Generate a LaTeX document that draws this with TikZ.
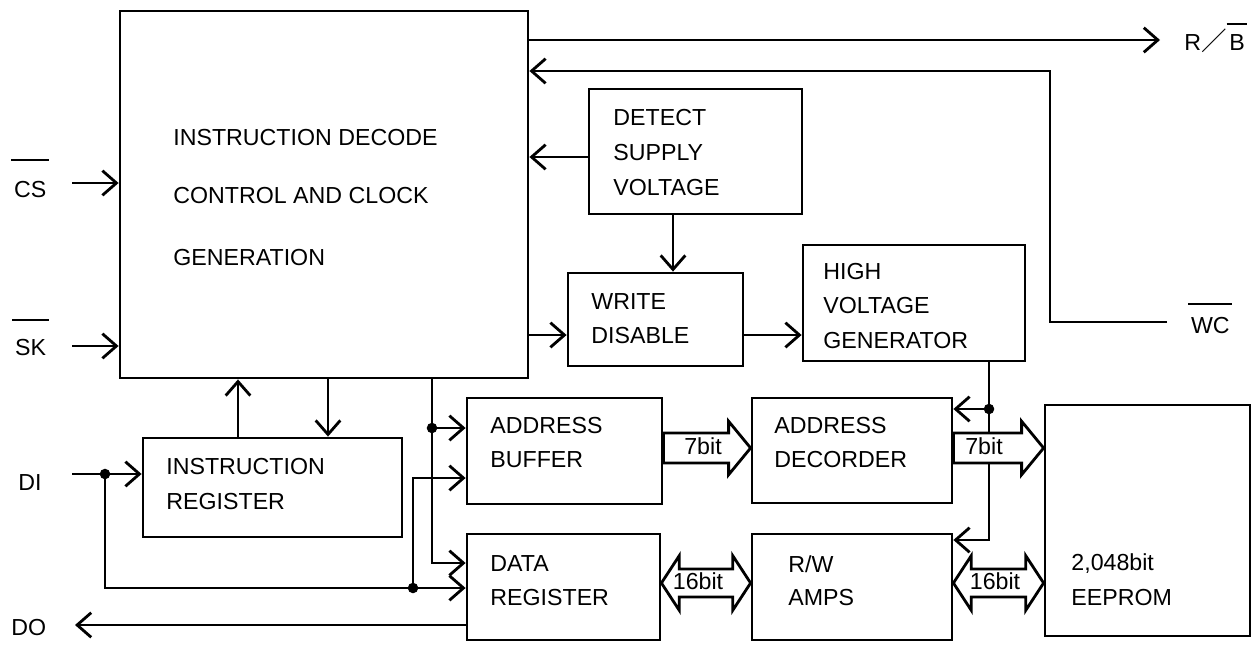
\documentclass[tikz,border=0pt]{standalone}
\usepackage{fontspec}
\setmainfont{Liberation Sans}
\newfontfamily\cjkfont{Noto Sans CJK JP}[Scale=1.1]
\usetikzlibrary{arrows.meta,fit,calc}
\newcommand\ovl[2]{\vbox{\hrule height 1.5pt\kern#1\hbox{\kern1.5pt#2\kern1.5pt}}}
\newcommand\fs{\fontsize{13.2}{15}\selectfont}
\newcommand\busright[2]{%
  \draw[bus] let \p1=(#1), \p2=(#2) in
    (\x1,{\y1+8.5pt}) -- ({\x2-12.5pt},{\y1+8.5pt}) -- ({\x2-12.5pt},{\y1+15.2pt}) -- (\x2,\y1)
    -- ({\x2-12.5pt},{\y1-15.2pt}) -- ({\x2-12.5pt},{\y1-8.5pt}) -- (\x1,{\y1-8.5pt}) -- cycle;}
\newcommand\busboth[2]{%
  \draw[bus] let \p1=(#1), \p2=(#2) in
    (\x1,\y1) -- ({\x1+10.2pt},{\y1+15.6pt}) -- ({\x1+10.2pt},{\y1+8pt}) -- ({\x2-10.2pt},{\y1+8pt})
    -- ({\x2-10.2pt},{\y1+15.6pt}) -- (\x2,\y1) -- ({\x2-10.2pt},{\y1-15.6pt}) -- ({\x2-10.2pt},{\y1-8pt})
    -- ({\x1+10.2pt},{\y1-8pt}) -- ({\x1+10.2pt},{\y1-15.6pt}) -- cycle;}
\begin{document}
\begin{tikzpicture}[x=0.02cm,y=-0.02cm,line width=1.6pt,
  box/.style={draw,inner sep=0pt},
  txt/.style={anchor=west,inner sep=0pt,font=\fs},
  lbl/.style={anchor=base west,inner sep=0pt,font=\fs},
  arr/.style={-{Straight Barb[length=8pt,width=14pt]}},
  dot/.style={circle,fill,inner sep=0pt,minimum size=6pt},
  bus/.style={draw,fill=white,line width=1.6pt}]
\useasboundingbox (0,0) rectangle (1254,646);
% boxes
\node[box,fit={(120,11) (528,378)}] (main) {};
\node[box,fit={(589,89) (802,214)}] (det) {};
\node[box,fit={(568,273) (743,366)}] (wd) {};
\node[box,fit={(803,245) (1025,361)}] (hvg) {};
\node[box,fit={(143,438) (402,537)}] (ir) {};
\node[box,fit={(467,398) (662,504)}] (ab) {};
\node[box,fit={(752,398) (952,503)}] (ad) {};
\node[box,fit={(467,534) (660,640)}] (dr) {};
\node[box,fit={(752,534) (952,640)}] (rw) {};
\node[box,fit={(1045,405) (1250,636)}] (ee) {};
% texts
\node[txt] (m1) at (172,138) {INSTRUCTION DECODE};
\node[txt] (m2) at (172,196) {CONTROL AND CLOCK};
\node[txt] (m3) at (172,258) {GENERATION};
\node[txt] (d1) at (612,118) {DETECT};
\node[txt] (d2) at (612,153) {SUPPLY};
\node[txt] (d3) at (612,188) {VOLTAGE};
\node[txt] (w1) at (590,302) {WRITE};
\node[txt] (w2) at (590,336) {DISABLE};
\node[txt] (h1) at (822,272) {HIGH};
\node[txt] (h2) at (822,306) {VOLTAGE};
\node[txt] (h3) at (822,341) {GENERATOR};
\node[txt] (i1) at (165,467) {INSTRUCTION};
\node[txt] (i2) at (165,502) {REGISTER};
\node[txt] (a1) at (489,426) {ADDRESS};
\node[txt] (a2) at (489,460) {BUFFER};
\node[txt] (e1) at (773,426) {ADDRESS};
\node[txt] (e2) at (773,460) {DECORDER};
\node[txt] (r1) at (489,564) {DATA};
\node[txt] (r2) at (489,598) {REGISTER};
\node[txt] (q1) at (787,564) {R/W};
\node[txt] (q2) at (787,598) {AMPS};
\node[txt] (p1) at (1070,564) {2,048bit};
\node[txt] (p2) at (1070,598) {EEPROM};
% pin labels
\node[lbl] (cs) at (10,197) {\ovl{11pt}{CS}};
\node[lbl] (sk) at (11,355) {\ovl{10pt}{SK}};
\node[lbl] (di) at (17,490) {DI};
\node[lbl] (do) at (10,635) {DO};
\node[lbl] (wc) at (1187,333) {\ovl{6.5pt}{WC}};
\node[lbl] (rb) at (1183,50) {R{\cjkfont ／}\ovl{5pt}{B}};
% connectors
\coordinate (rbend) at (1160,40);
\draw[arr] (main.east |- rbend) -- (rbend);
\coordinate (wcend) at (1167,322);
\coordinate (wcturn) at (1050,71);
\draw[arr] (wcend) -| (wcturn) -- (main.east |- wcturn);
\coordinate (csin) at (72,183);
\draw[arr] (csin) -- (main.west |- csin);
\coordinate (skin) at (72,346);
\draw[arr] (skin) -- (main.west |- skin);
\coordinate (dety) at (0,157);
\draw[arr] (det.west |- dety) -- (main.east |- dety);
\coordinate (dwx) at (673,0);
\draw[arr] (det.south -| dwx) -- (wd.north -| dwx);
\coordinate (wdy) at (0,335);
\draw[arr] (main.east |- wdy) -- (wd.west |- wdy);
\draw[arr] (wd.east |- wdy) -- (hvg.west |- wdy);
\coordinate (irup) at (238,0);
\coordinate (irdn) at (328,0);
\draw[arr] (ir.north -| irup) -- (main.south -| irup);
\draw[arr] (main.south -| irdn) -- (ir.north -| irdn);
\coordinate (ctl) at (432,428);
\coordinate (ctlbot) at (432,563);
\draw[arr] (main.south -| ctl) -- (ctlbot) -- (dr.west |- ctlbot);
\draw[arr] (ctl) -- (ab.west |- ctl);
\coordinate (diin) at (72,474);
\coordinate (dij) at (105,474);
\coordinate (dib) at (105,588);
\coordinate (dsj) at (413,588);
\coordinate (dst) at (413,478);
\draw[arr] (diin) -- (ir.west |- diin);
\draw[arr] (dij) -- (dib) -- (dr.west |- dib);
\draw[arr] (dsj) -- (dst) -- (ab.west |- dst);
\coordinate (doy) at (75,625);
\draw[arr] (dr.west |- doy) -- (doy);
\coordinate (hvx) at (989,409);
\coordinate (hvb) at (989,540);
\draw[arr] (hvg.south -| hvx) -- (hvb) -- (rw.east |- hvb);
\draw[arr] (hvx) -- (ad.east |- hvx);
\node[dot] at (ctl) {};
\node[dot] at (dij) {};
\node[dot] at (dsj) {};
\node[dot] at (hvx) {};
% buses
\coordinate (b7) at (0,448);
\coordinate (b16) at (0,583);
\busright{ab.east |- b7}{ad.west |- b7}
\busright{ad.east |- b7}{ee.west |- b7}
\busboth{dr.east |- b16}{rw.west |- b16}
\busboth{rw.east |- b16}{ee.west |- b16}
\node[txt,anchor=center] (l1) at (703,446) {7bit};
\node[txt,anchor=center] (l2) at (984,446) {7bit};
\node[txt,anchor=center] (l3) at (698,581) {16bit};
\node[txt,anchor=center] (l4) at (995,581) {16bit};
\end{tikzpicture}
\end{document}
